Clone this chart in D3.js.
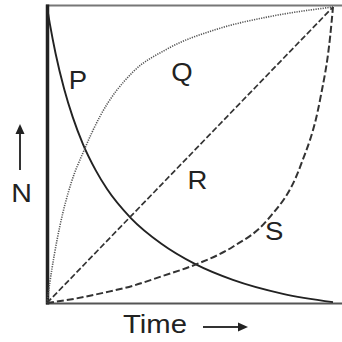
<!DOCTYPE html>
<html><head><meta charset="utf-8">
<script src="https://cdn.jsdelivr.net/npm/d3@7"></script>
<style>html,body{margin:0;padding:0;background:#fff;}svg{display:block;}</style>
</head><body>
<svg id="c" width="342" height="342"></svg>
<script>
// Curve data (x = time fraction, y = N fraction)
const pX = [0, 0.01, 0.03, 0.06, 0.09, 0.126, 0.17, 0.21, 0.294, 0.4, 0.517, 0.65, 0.825, 1];
const pY = [1, 0.943, 0.843, 0.723, 0.628, 0.536, 0.449, 0.385, 0.286, 0.2, 0.132, 0.078, 0.031, 0.003];
const qX = [0, 0.01, 0.025, 0.045, 0.086, 0.126, 0.185, 0.30, 0.42, 0.594, 0.77, 1];
const qY = [0, 0.07, 0.16, 0.26, 0.41, 0.508, 0.63, 0.78, 0.858, 0.925, 0.966, 1];
const rX = [0, 1];
const rY = [0, 1];
const sX = [0, 0.1, 0.2, 0.3, 0.4, 0.517, 0.65, 0.77, 0.885, 0.955, 0.99, 1];
const sY = [0, 0.015, 0.035, 0.058, 0.09, 0.129, 0.19, 0.28, 0.46, 0.688, 0.9, 1];
const labels = ["P", "Q", "R", "S"];
const labelX = [0.108, 0.472, 0.526, 0.794];
const labelY = [0.722, 0.749, 0.386, 0.213];

const svg = d3.select("#c");
const x = d3.scaleLinear().domain([0, 1]).range([47, 333]);
const y = d3.scaleLinear().domain([0, 1]).range([303, 7]);

// frame
svg.append("line").attr("x1", 46).attr("x2", 342).attr("y1", 5.5).attr("y2", 5.5)
  .attr("stroke", "#777").attr("stroke-width", 2);
svg.append("line").attr("x1", 46).attr("x2", 342).attr("y1", 303.5).attr("y2", 303.5)
  .attr("stroke", "#555").attr("stroke-width", 2);
svg.append("line").attr("x1", 47.5).attr("x2", 47.5).attr("y1", 4.5).attr("y2", 304.5)
  .attr("stroke", "#222").attr("stroke-width", 3.5);

const line = d3.line().x(d => x(d[0])).y(d => y(d[1])).curve(d3.curveMonotoneX);
const series = [
  {xs: pX, ys: pY, dash: null, w: 1.9, c: "#222"},
  {xs: qX, ys: qY, dash: "1.2,1.2", w: 1.6, c: "#555"},
  {xs: rX, ys: rY, dash: "6,2.5", w: 1.7, c: "#333"},
  {xs: sX, ys: sY, dash: "7,3", w: 2, c: "#333"}
];
series.forEach(s => {
  svg.append("path").datum(d3.zip(s.xs, s.ys)).attr("d", line)
    .attr("fill", "none").attr("stroke", s.c).attr("stroke-width", s.w)
    .attr("stroke-dasharray", s.dash);
});

const font = "Liberation Sans, Arial, sans-serif";
labels.forEach((t, i) => {
  svg.append("text").attr("transform", `translate(${x(labelX[i])},${y(labelY[i])}) scale(1.1,1)`)
    .attr("text-anchor", "middle").attr("font-family", font).attr("font-size", 25)
    .attr("fill", "#222").text(t);
});

// axis labels
svg.append("text").attr("transform", "translate(21.5,202) scale(1.1,1)").attr("text-anchor", "middle")
  .attr("font-family", font).attr("font-size", 26).attr("fill", "#222").text("N");
svg.append("text").attr("x", 123).attr("y", 333).attr("textLength", 64).attr("lengthAdjust", "spacingAndGlyphs")
  .attr("font-family", font).attr("font-size", 25).attr("fill", "#222").text("Time");

// arrows
svg.append("line").attr("x1", 20).attr("x2", 20).attr("y1", 170).attr("y2", 132)
  .attr("stroke", "#333").attr("stroke-width", 2);
svg.append("path").attr("d", "M20,124 L15.5,134 L24.5,134 Z").attr("fill", "#222");
svg.append("line").attr("x1", 203).attr("x2", 240).attr("y1", 327).attr("y2", 327)
  .attr("stroke", "#333").attr("stroke-width", 2);
svg.append("path").attr("d", "M248,327 L238,322.5 L238,331.5 Z").attr("fill", "#222");
</script>
</body></html>
